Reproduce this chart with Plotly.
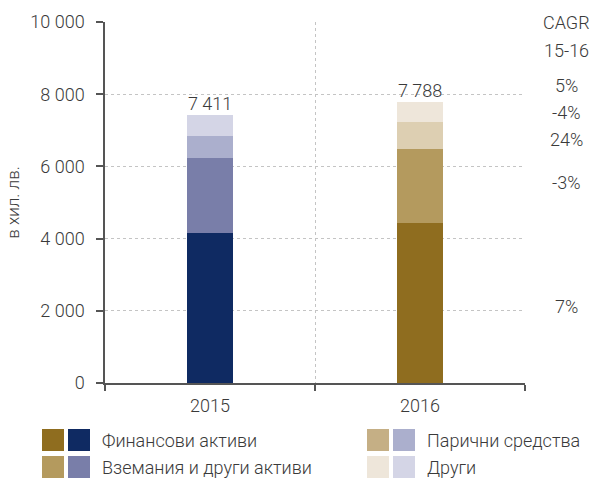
import plotly.graph_objects as go

years = ["2015", "2016"]
segments = ["Финансови активи", "Вземания и други активи", "Парични средства", "Други"]
values = {
    "Финансови активи": [4150, 4430],
    "Вземания и други активи": [2080, 2040],
    "Парични средства": [610, 760],
    "Други": [571, 558],
}
totals = [7411, 7788]
cagr_labels = ["7%", "-3%", "24%", "-4%"]
cagr_shift = [-3, 4, -4, -1]
cagr_total = "5%"

bar_colors = {
    "Финансови активи": ["#0f2a62", "#8f6d1f"],
    "Вземания и други активи": ["#797ea9", "#b49a5e"],
    "Парични средства": ["#abafcd", "#ddcfb2"],
    "Други": ["#d4d5e6", "#eee6da"],
}
legend_colors = {
    "Финансови активи": ["#8f6d1f", "#0f2a62"],
    "Вземания и други активи": ["#b49a5e", "#797ea9"],
    "Парични средства": ["#c5af85", "#abafcd"],
    "Други": ["#eee6da", "#d4d5e6"],
}

FONT = "Roboto, Arial, sans-serif"
TXT = "#3a3a3a"
FS = 18
def f(size=FS):
    return dict(family=FONT, size=size, color=TXT, weight=300)

fig = go.Figure()
for seg in segments:
    fig.add_trace(go.Bar(
        x=years, y=values[seg], name=seg,
        marker=dict(color=bar_colors[seg], line=dict(width=0)),
        width=0.22, showlegend=False, hoverinfo="y+name",
    ))

# Totals above the stacks (category index positions)
for i, tot in enumerate(totals):
    fig.add_annotation(x=i, y=tot, text=f"{tot:,}".replace(",", " "),
                       showarrow=False, yanchor="bottom", yshift=-1,
                       font=f())

# CAGR column, aligned to 2016 segment midpoints
PLOT_L, PLOT_R, PLOT_T, PLOT_B = 105, 525, 22, 383
W, H = PLOT_R - PLOT_L, PLOT_B - PLOT_T
def px(xp):
    return (xp - PLOT_L) / W
def py(yp):
    return (PLOT_B - yp) / H

cx = px(566)
fig.add_annotation(xref="paper", yref="paper", x=cx, y=py(22), text="CAGR",
                   xanchor="center", yanchor="middle", showarrow=False, font=f())
fig.add_annotation(xref="paper", yref="paper", x=cx, y=py(50), text="15-16",
                   xanchor="center", yanchor="middle", showarrow=False, font=f())
base = 0
for seg, lab, sh in zip(segments, cagr_labels, cagr_shift):
    v = values[seg][1]
    fig.add_annotation(xref="paper", yref="y", x=cx, y=base + v / 2, text=lab,
                       xanchor="center", yanchor="middle", yshift=sh,
                       showarrow=False, font=f())
    base += v
fig.add_annotation(xref="paper", yref="y", x=cx, y=totals[1], yshift=16,
                   xanchor="center", yanchor="middle", text=cagr_total,
                   showarrow=False, font=f())

# Custom legend: paired swatches (2016 colour, 2015 colour) per category
leg_pos = [(42, 440), (42, 467), (367, 440), (367, 467)]
order = ["Финансови активи", "Вземания и други активи", "Парични средства", "Други"]
for seg, (lx, ly) in zip(order, leg_pos):
    for k, col in enumerate(legend_colors[seg]):
        x0 = lx + k * 26
        fig.add_shape(type="rect", xref="paper", yref="paper",
                      x0=px(x0), x1=px(x0 + 22), y0=py(ly + 11), y1=py(ly - 11),
                      fillcolor=col, line=dict(width=0))
    fig.add_annotation(xref="paper", yref="paper", x=px(lx + 58), y=py(ly),
                       text=seg, showarrow=False, xanchor="left", yanchor="middle",
                       font=f())

fig.update_layout(
    width=599, height=479,
    margin=dict(l=PLOT_L, r=599 - PLOT_R, t=PLOT_T, b=479 - PLOT_B, autoexpand=False),
    paper_bgcolor="white", plot_bgcolor="white",
    barmode="stack",
    separators=". ",
    font=f(),
    showlegend=False,
)
fig.update_xaxes(
    type="category", tickson="boundaries", range=[-0.5, 1.5],
    showline=True, linecolor="#555555", linewidth=1.5,
    ticks="outside", ticklen=6, tickcolor="#555555", tickwidth=1.5,
    showgrid=True, gridcolor="#c4c4c4", griddash="dot", gridwidth=1,
    tickfont=f(), ticklabelstandoff=6,
)
fig.update_yaxes(
    range=[0, 10000], tickvals=[0, 2000, 4000, 6000, 8000, 10000], tickformat=",d",
    showline=True, linecolor="#555555", linewidth=1.5,
    ticks="outside", ticklen=7, tickcolor="#555555", tickwidth=1.5,
    showgrid=True, gridcolor="#c4c4c4", griddash="dot", gridwidth=1,
    zeroline=False,
    tickfont=f(), ticklabelstandoff=8,
    title=dict(text="в хил. лв.", font=f(17), standoff=6),
)

fig.write_html("out.html")
